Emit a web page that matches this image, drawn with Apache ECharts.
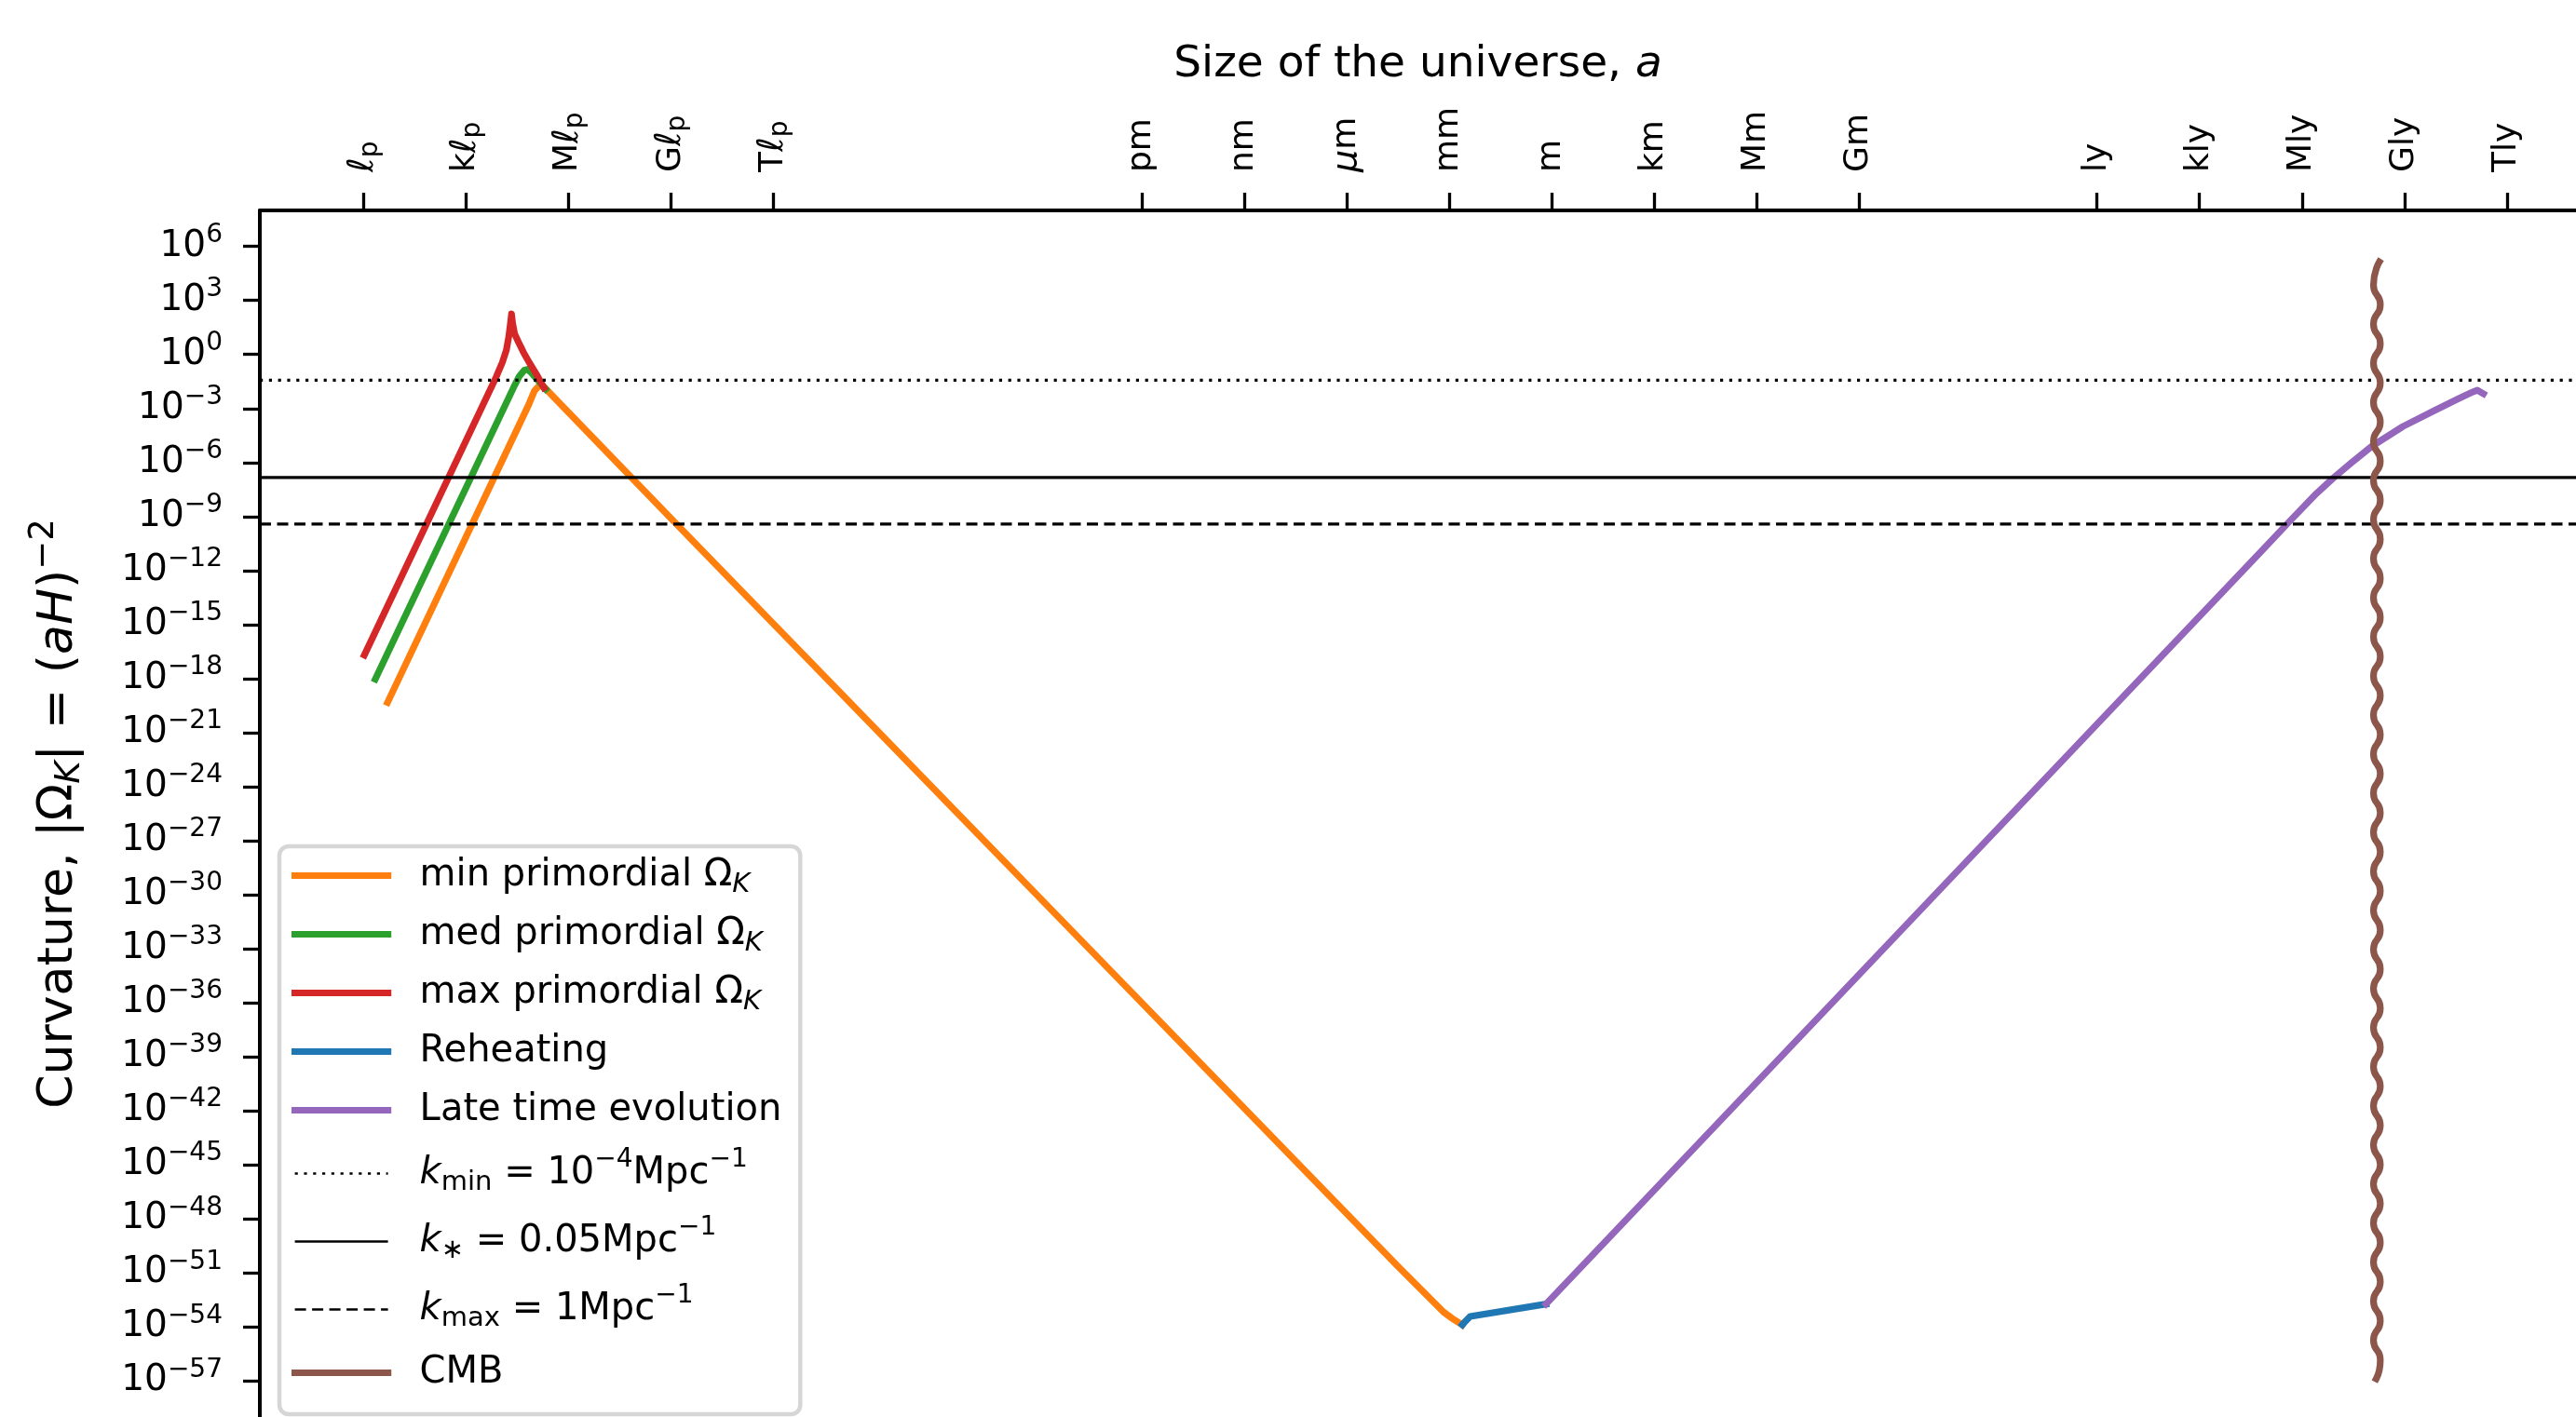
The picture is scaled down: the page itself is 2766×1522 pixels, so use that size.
<!DOCTYPE html>
<html>
<head>
<meta charset="utf-8">
<script src="https://cdn.jsdelivr.net/npm/echarts@6/dist/echarts.min.js"></script>
<style>
  html, body { margin: 0; padding: 0; background: #ffffff; }
  #chart { width: 2766px; height: 1522px; }
</style>
</head>
<body>
<div id="chart"></div>
<script>
// Curvature |Omega_K| of the universe against its size (both as log10).
// x = log10(size / metre), y = log10(|Omega_K|).

// Top axis ticks: Planck-length multiples, metre multiples, light-year multiples.
const planckTickValues = [-34.79, -31.79, -28.79, -25.79, -22.79];
const planckTickPrefixes = ['', 'k', 'M', 'G', 'T'];
const metreTickValues = [-12, -9, -6, -3, 0, 3, 6, 9];
const metreTickPrefixes = ['p', 'n', 'μ', 'm', '', 'k', 'M', 'G'];
const lightYearTickValues = [15.976, 18.976, 21.976, 24.976, 27.976];
const lightYearTickPrefixes = ['', 'k', 'M', 'G', 'T'];

// Left axis ticks (exponents of ten).
const yTickExponents = [-57, -54, -51, -48, -45, -42, -39, -36, -33, -30, -27, -24, -21, -18, -15, -12, -9, -6, -3, 0, 3, 6];

// Axis extents.
const xRange = [-37.82, 30.0];
const yRange = [-59, 8];

// Curves: [log10 size, log10 |Omega_K|]
const minPrimordial = [[-34.08, -19.32], [-29.95, -2.8], [-29.78, -2.02], [-29.64, -1.72], [-29.5, -1.8], [-29.3, -2.2], [-25.79, -9.09], [-4.52, -50.59], [-3.16, -53.17], [-2.85, -53.6], [-2.61, -53.88]];
const medPrimordial = [[-34.44, -18.03], [-30.4, -1.87], [-30.22, -1.2], [-30.08, -0.88], [-29.98, -0.82], [-29.85, -1.05], [-29.65, -1.5], [-29.45, -1.92]];
const maxPrimordial = [[-34.76, -16.69], [-30.9, -1.25], [-30.72, -0.45], [-30.6, 0.25], [-30.53, 1.0], [-30.48, 1.75], [-30.45, 2.25], [-30.42, 1.75], [-30.36, 1.15], [-30.25, 0.7], [-30.1, 0.12], [-29.93, -0.45], [-29.72, -1.1], [-29.5, -1.85]];
const reheating = [[-2.61, -53.88], [-2.56, -53.77], [-2.38, -53.42], [-0.16, -52.73]];
const lateTime = [[-0.16, -52.73], [20.75, -11.0], [21.57, -9.35], [22.4, -7.72], [22.9, -6.85], [23.4, -6.05], [24.02, -5.1], [24.93, -4.0], [25.84, -3.13], [26.57, -2.44], [26.93, -2.12], [27.11, -1.98], [27.29, -2.18]];

// Horizon-crossing levels of the three reference wavenumbers.
const kMinLevel = -1.43;
const kStarLevel = -6.83;
const kMaxLevel = -9.42;

// CMB marker: wavy vertical line, turning points of the wave.
const cmbWave = [
  [24.24, 5.14], [24.07, 3.85], [24.27, 2.77], [24.07, 1.68], [24.27, 0.60], [24.07, -0.49],
  [24.27, -1.58], [24.07, -2.66], [24.27, -3.75], [24.07, -4.83], [24.27, -5.92], [24.07, -7.00],
  [24.27, -8.09], [24.07, -9.17], [24.27, -10.26], [24.07, -11.34], [24.27, -12.43], [24.07, -13.51],
  [24.27, -14.60], [24.07, -15.68], [24.27, -16.77], [24.07, -17.85], [24.27, -18.94], [24.07, -20.02],
  [24.27, -21.11], [24.07, -22.19], [24.27, -23.28], [24.07, -24.36], [24.27, -25.45], [24.07, -26.53],
  [24.27, -27.62], [24.07, -28.70], [24.27, -29.79], [24.07, -30.87], [24.27, -31.96], [24.07, -33.04],
  [24.27, -34.13], [24.07, -35.21], [24.27, -36.30], [24.07, -37.38], [24.27, -38.47], [24.07, -39.55],
  [24.27, -40.64], [24.07, -41.72], [24.27, -42.81], [24.07, -43.89], [24.27, -44.98], [24.07, -46.06],
  [24.27, -47.15], [24.07, -48.23], [24.27, -49.32], [24.07, -50.40], [24.27, -51.49], [24.07, -52.57],
  [24.27, -53.66], [24.07, -54.74], [24.27, -55.83], [24.15, -56.88]
];

const FONT = 'DejaVu Sans';
const C = {
  orange: '#ff7f0e', green: '#2ca02c', red: '#d62728', blue: '#1f77b4',
  purple: '#9467bd', brown: '#8c564b', black: '#000000'
};

const xTickValues = planckTickValues.concat(metreTickValues, lightYearTickValues);

function near(a, b) { return Math.abs(a - b) < 1e-6; }

function xTickLabel(v) {
  let i = planckTickValues.findIndex(t => near(t, v));
  if (i >= 0) {
    const p = planckTickPrefixes[i];
    return (p ? '{m|' + p + '}' : '') + '{it|ℓ}{sub|p}';
  }
  i = metreTickValues.findIndex(t => near(t, v));
  if (i >= 0) {
    const p = metreTickPrefixes[i];
    if (p === 'μ') return '{it|μ}{m|m}';
    return '{m|' + p + 'm}';
  }
  i = lightYearTickValues.findIndex(t => near(t, v));
  if (i >= 0) return '{m|' + lightYearTickPrefixes[i] + 'ly}';
  return '';
}

function yTickLabel(v) {
  const e = Math.round(v);
  return '{b|10}{s|' + (e < 0 ? '−' + Math.abs(e) : String(e)) + '}';
}

// {h|...} is a zero-width strut so plain rows get the same height as rows with subscripts.
const legendLabels = {
  'min primordial ΩK': '{t|min primordial Ω}{subi|K}',
  'med primordial ΩK': '{t|med primordial Ω}{subi|K}',
  'max primordial ΩK': '{t|max primordial Ω}{subi|K}',
  'Reheating': '{t|Reheating}{h|\u200b}',
  'Late time evolution': '{t|Late time evolution}{h|\u200b}',
  'k_min': '{i|k}{sub|min}{t| = 10}{sup|−4}{t|Mpc}{sup|−1}',
  'k_*': '{i|k}{sub|∗}{t| = 0.05Mpc}{sup|−1}',
  'k_max': '{i|k}{sub|max}{t| = 1Mpc}{sup|−1}',
  'CMB': '{t|CMB}{h|\u200b}'
};

function curve(name, data, color, extra) {
  return Object.assign({
    name: name,
    type: 'line',
    data: data,
    color: color,
    symbol: 'none',
    showSymbol: false,
    smooth: false,
    animation: false,
    lineStyle: { color: color, width: 7.2, cap: 'square', join: 'round' },
    emphasis: { disabled: true }
  }, extra || {});
}

function level(name, y, type, dash) {
  return {
    name: name,
    type: 'line',
    data: [[xRange[0], y], [xRange[1], y]],
    color: C.black,
    symbol: 'none',
    showSymbol: false,
    animation: false,
    lineStyle: { color: C.black, width: 3.2, type: dash || type, cap: 'butt' },
    emphasis: { disabled: true }
  };
}

const chart = echarts.init(document.getElementById('chart'), null, { renderer: 'canvas' });

chart.setOption({
  backgroundColor: '#ffffff',
  animation: false,
  textStyle: { fontFamily: FONT },
  grid: { left: 279, top: 226, right: 0, bottom: 0, containLabel: false, outerBoundsMode: 'none' },
  xAxis: {
    type: 'value',
    position: 'top',
    min: xRange[0],
    max: xRange[1],
    name: '{t|Size of the universe, }{it|a}',
    nameLocation: 'middle',
    nameGap: 128,
    nameMoveOverlap: false,
    nameTextStyle: {
      color: '#000',
      rich: {
        t: { fontFamily: FONT, fontSize: 47, color: '#000', lineHeight: 56 },
        it: { fontFamily: FONT, fontSize: 47, fontStyle: 'italic', color: '#000', lineHeight: 56 }
      }
    },
    axisLine: { show: true, onZero: false, lineStyle: { color: '#000', width: 4 } },
    axisTick: { show: true, customValues: xTickValues, length: 19, lineStyle: { color: '#000', width: 3.3 } },
    axisLabel: {
      show: true,
      customValues: xTickValues,
      rotate: -90,
      margin: 41,
      color: '#000',
      formatter: xTickLabel,
      rich: {
        m: { fontFamily: FONT, fontSize: 36, color: '#000', lineHeight: 40 },
        it: { fontFamily: FONT, fontSize: 38, fontStyle: 'italic', color: '#000', lineHeight: 40 },
        sub: { fontFamily: FONT, fontSize: 28, color: '#000', lineHeight: 28, padding: [16, 0, 0, 0] }
      }
    },
    splitLine: { show: false }
  },
  yAxis: {
    type: 'value',
    min: yRange[0],
    max: yRange[1],
    name: '{t|Curvature, |Ω}{subi|K}{t|| = (}{i|aH}{t|)}{sup|−2}',
    nameLocation: 'middle',
    nameRotate: 90,
    nameGap: 186,
    nameMoveOverlap: false,
    nameTextStyle: {
      color: '#000',
      rich: {
        t: { fontFamily: FONT, fontSize: 52, color: '#000', lineHeight: 60 },
        i: { fontFamily: FONT, fontSize: 52, fontStyle: 'italic', color: '#000', lineHeight: 60 },
        subi: { fontFamily: FONT, fontSize: 37, fontStyle: 'italic', color: '#000', lineHeight: 37, padding: [24, 0, 0, 0] },
        sup: { fontFamily: FONT, fontSize: 37, color: '#000', lineHeight: 37, padding: [0, 0, 32, 0] }
      }
    },
    axisLine: { show: true, onZero: false, lineStyle: { color: '#000', width: 4 } },
    axisTick: { show: true, customValues: yTickExponents, length: 18, lineStyle: { color: '#000', width: 3.3 } },
    axisLabel: {
      show: true,
      customValues: yTickExponents,
      margin: 40,
      color: '#000',
      formatter: yTickLabel,
      rich: {
        b: { fontFamily: FONT, fontSize: 39, color: '#000', lineHeight: 40 },
        s: { fontFamily: FONT, fontSize: 28, color: '#000', lineHeight: 28, padding: [0, 0, 24, 0] }
      }
    },
    splitLine: { show: false }
  },
  legend: {
    orient: 'vertical',
    left: 300,
    top: 909,
    padding: [7, 20, 20, 13],
    itemWidth: 100,
    itemHeight: 14,
    itemGap: 14,
    backgroundColor: 'rgba(255,255,255,0.8)',
    borderColor: '#d6d6d6',
    borderWidth: 4.5,
    borderRadius: 10,
    selectedMode: false,
    itemStyle: { opacity: 0 },
    formatter: name => legendLabels[name],
    textStyle: {
      fontFamily: FONT,
      fontSize: 40,
      color: '#000',
      padding: [0, 0, 0, 29],
      rich: {
        t: { fontFamily: FONT, fontSize: 40, color: '#000', lineHeight: 50 },
        i: { fontFamily: FONT, fontSize: 40, fontStyle: 'italic', color: '#000', lineHeight: 50 },
        h: { fontFamily: FONT, fontSize: 29, color: '#000', lineHeight: 30, padding: [20, 0, 0, 0] },
        subi: { fontFamily: FONT, fontSize: 29, fontStyle: 'italic', color: '#000', lineHeight: 30, padding: [20, 0, 0, 0] },
        sub: { fontFamily: FONT, fontSize: 29, color: '#000', lineHeight: 30, padding: [20, 0, 0, 0] },
        sup: { fontFamily: FONT, fontSize: 28, color: '#000', lineHeight: 28, padding: [1, 0, 30, 0] }
      }
    },
    data: [
      { name: 'min primordial ΩK', lineStyle: { width: 7.2, opacity: 1 } },
      { name: 'med primordial ΩK', lineStyle: { width: 7.2, opacity: 1 } },
      { name: 'max primordial ΩK', lineStyle: { width: 7.2, opacity: 1 } },
      { name: 'Reheating', lineStyle: { width: 7.2, opacity: 1 } },
      { name: 'Late time evolution', lineStyle: { width: 7.2, opacity: 1 } },
      { name: 'k_min', lineStyle: { width: 2.6, opacity: 1 } },
      { name: 'k_*', lineStyle: { width: 2.6, opacity: 1 } },
      { name: 'k_max', lineStyle: { width: 2.6, opacity: 1 } },
      { name: 'CMB', lineStyle: { width: 7.2, opacity: 1 } }
    ]
  },
  series: [
    curve('min primordial ΩK', minPrimordial, C.orange),
    curve('med primordial ΩK', medPrimordial, C.green),
    curve('max primordial ΩK', maxPrimordial, C.red),
    curve('Reheating', reheating, C.blue),
    curve('Late time evolution', lateTime, C.purple),
    level('k_min', kMinLevel, 'dotted', [3.2, 6.6]),
    level('k_*', kStarLevel, 'solid'),
    level('k_max', kMaxLevel, 'dashed', [12, 6.5]),
    curve('CMB', cmbWave, C.brown, { smooth: 0.6 })
  ]
});
</script>
</body>
</html>
